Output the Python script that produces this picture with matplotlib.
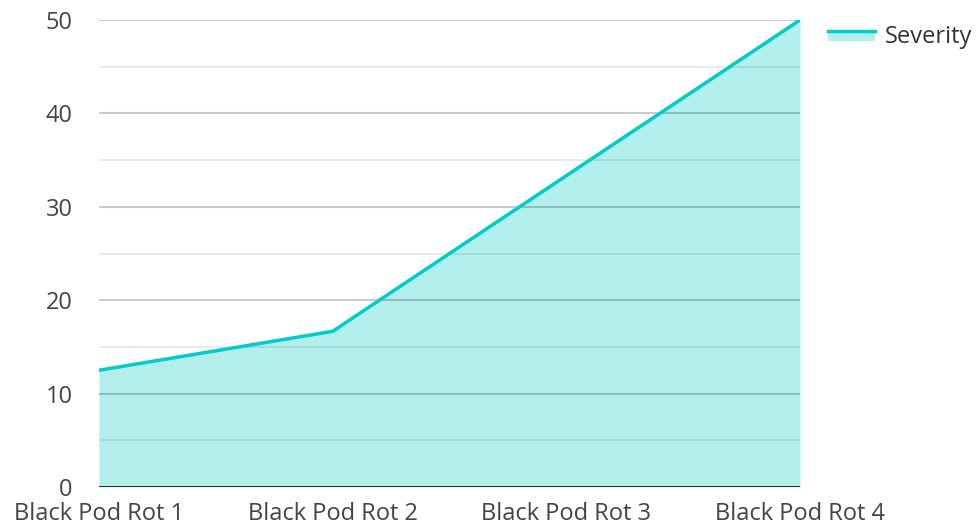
import matplotlib.pyplot as plt
from matplotlib.legend_handler import HandlerBase
from matplotlib.patches import Rectangle
from matplotlib.lines import Line2D

plt.rcParams['font.family'] = ['Open Sans', 'DejaVu Sans']

categories = ["Black Pod Rot 1", "Black Pod Rot 2", "Black Pod Rot 3", "Black Pod Rot 4"]
severity = [12.5, 16.67, 33.33, 50]
y_ticks = [0, 10, 20, 30, 40, 50]

LINE_COLOR = "#00cccc"
FILL_COLOR = "#b2efed"
FS = 17


class AreaHandler(HandlerBase):
    def create_artists(self, legend, orig_handle, xdescent, ydescent,
                       width, height, fontsize, trans):
        top = height * 0.7 - ydescent
        rect = Rectangle((-xdescent, top - height * 0.6), width, height * 0.6,
                         facecolor=FILL_COLOR, edgecolor='none', transform=trans)
        line = Line2D([-xdescent, width - xdescent], [top, top],
                      color=LINE_COLOR, lw=2.5, transform=trans)
        return [rect, line]


fig = plt.figure(figsize=(9.8, 5.26), dpi=100)
ax = fig.add_axes([99 / 980, 1 - 487 / 526, 701 / 980, 467 / 526])

x = list(range(len(categories)))
ax.fill_between(x, severity, 0, color=FILL_COLOR, lw=0, zorder=1)
ax.plot(x, severity, color=LINE_COLOR, lw=2.5, zorder=3, solid_capstyle='round')

# gridlines drawn above the fill
for v in range(5, 51, 5):
    major = v % 10 == 0
    ax.axhline(v, color='#000000', alpha=0.2 if major else 0.08, lw=1.5, zorder=2)
ax.axhline(0, color='#333333', lw=2.2, zorder=4)

ax.set_xlim(0, len(categories) - 1)
ax.set_ylim(0, 50)
ax.set_yticks(y_ticks)
ax.set_xticks(x)
ax.set_xticklabels(categories)
ax.tick_params(axis='both', length=0, labelsize=FS, colors='#444444')
ax.tick_params(axis='y', pad=19)
ax.tick_params(axis='x', pad=11)
for s in ax.spines.values():
    s.set_visible(False)

ax.legend([object()], ["Severity"], handler_map={object: AreaHandler()},
          loc='upper left', bbox_to_anchor=(1.04, 0.99), frameon=False,
          borderpad=0, borderaxespad=0,
          fontsize=FS, handlelength=2.0, handletextpad=0.4,
          labelcolor='#333333')

fig.savefig("out.png", dpi=100)
